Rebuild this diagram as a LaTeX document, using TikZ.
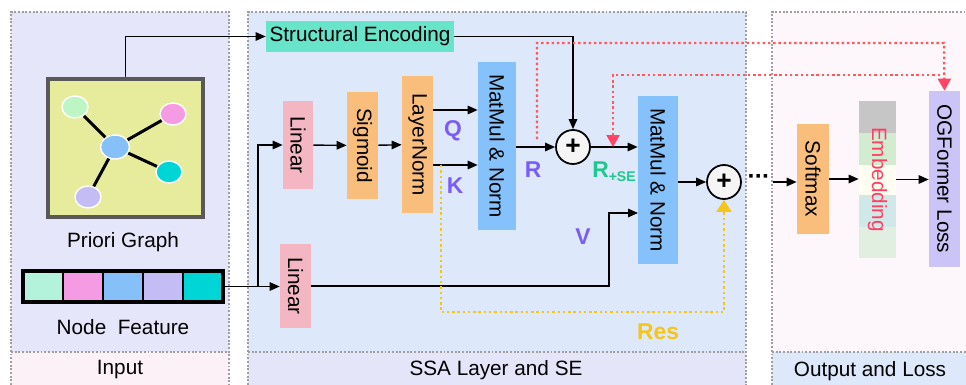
\documentclass[tikz,border=0pt]{standalone}
\usepackage{fontspec}
\setmainfont{Liberation Sans}
\usepackage{graphicx}
\usetikzlibrary{arrows.meta,shapes.geometric}
\newcommand{\vtext}[1]{\rotatebox{-90}{#1}}
\definecolor{inbg}{HTML}{E6E6FA}
\definecolor{infoot}{HTML}{FDF1F8}
\definecolor{ssabg}{HTML}{DEE8FB}
\definecolor{ssafoot}{HTML}{E5E5FA}
\definecolor{outbg}{HTML}{FDF6FA}
\definecolor{graphbg}{HTML}{E6EC9B}
\definecolor{nodegreen}{HTML}{BDF5C5}
\definecolor{nodepink}{HTML}{F59BE3}
\definecolor{nodeblue}{HTML}{85C1F8}
\definecolor{nodecyan}{HTML}{00D5D5}
\definecolor{nodepurple}{HTML}{C4BDF5}
\definecolor{featmint}{HTML}{B3F3DC}
\definecolor{setteal}{HTML}{67E4CA}
\definecolor{linpink}{HTML}{F4B6C2}
\definecolor{orng}{HTML}{F9BE7C}
\definecolor{mmblue}{HTML}{85C2FB}
\definecolor{losslav}{HTML}{CAC5F6}
\definecolor{qkpurple}{HTML}{7B5CF6}
\definecolor{rsegreen}{HTML}{1DC98D}
\definecolor{resyel}{HTML}{F5C518}
\definecolor{redline}{HTML}{FF5A5A}
\definecolor{redtip}{HTML}{FF4466}
\definecolor{embred}{HTML}{FF3F62}

\begin{document}
\begin{tikzpicture}[x=0.02cm, y=-0.02cm,
  font=\fontsize{11.8}{13}\selectfont,
  panel/.style={draw=gray!75, densely dotted, line width=1.1pt},
  blk/.style={inner sep=0pt},
  arr/.style={-{Triangle[length=2mm,width=1.7mm]}, line width=0.8pt},
  plus/.style={circle, draw, line width=1pt, fill=gray!8, minimum size=0.68cm, inner sep=0pt, font=\fontsize{15}{15}\selectfont\bfseries},
  gnode/.style={ellipse, draw=white, line width=0.8pt, minimum width=0.52cm, minimum height=0.44cm, inner sep=0pt},
  redarr/.style={redline, line width=1.3pt, dash pattern=on 1.4pt off 1.6pt, -{Triangle[length=2.4mm,width=2.6mm,color=redtip]}},
  lbl/.style={font=\fontsize{13}{13}\selectfont\bfseries}]
  \useasboundingbox (0,0) rectangle (966,385);
  % Panneaux
  \fill[inbg] (11,12) rectangle (229,352);
  \fill[infoot] (11,352) rectangle (229,385);
  \fill[ssabg] (248,12) rectangle (746,352);
  \fill[ssafoot] (248,352) rectangle (746,385);
  \fill[outbg] (772,12) rectangle (966,352);
  \fill[ssabg] (772,352) rectangle (966,385);
  \draw[panel] (11,385) -- (11,12) -- (229,12) -- (229,385) (11,352) -- (229,352);
  \draw[panel] (248,385) -- (248,12) -- (746,12) -- (746,385) (248,352) -- (746,352);
  \draw[panel] (772,385) -- (772,12) -- (966,12) (772,352) -- (966,352);
  \node (tin) at (120,370) {Input};
  \node (tssa) at (496,370) {SSA Layer and SE};
  \node (tout) at (870,371) {Output and Loss};
  % Graphe a priori
  \node[draw=black!65, line width=1.8pt, fill=graphbg, minimum width=3.1cm, minimum height=2.76cm] (graph) at (125.5,148) {};
  \node[gnode, fill=nodeblue, minimum width=0.58cm, minimum height=0.48cm] (gc) at (115,147) {};
  \node[gnode, fill=nodegreen] (ga) at (75,107) {};
  \node[gnode, fill=nodepink] (gb) at (173,114) {};
  \node[gnode, fill=nodecyan] (gd) at (169,172) {};
  \node[gnode, fill=nodepurple] (ge) at (88,197) {};
  \foreach \g in {ga,gb,gd,ge}
    \draw[line width=1.7pt] (gc) -- (\g);
  \node (tgraph) at (123,242) {Priori Graph};
  % Caracteristiques des noeuds
  \foreach \c [count=\i from 0] in {featmint,nodepink,nodeblue,nodepurple,nodecyan}
    \draw[fill=\c, line width=1.1pt] (23+40*\i,271) rectangle ++(40,31);
  \node[draw, line width=1.8pt, minimum width=4cm, minimum height=0.62cm, inner sep=0pt] (feat) at (123,286.5) {};
  \node (tfeat) at (123,327) {Node\ \ Feature};
  % Blocs SSA
  \node[blk, fill=setteal, minimum width=3.76cm, minimum height=0.62cm] (se) at (360,36.5) {Structural Encoding};
  \node[blk, fill=linpink, minimum width=0.6cm, minimum height=1.76cm] (lin1) at (298,145) {\vtext{Linear}};
  \node[blk, fill=linpink, minimum width=0.62cm, minimum height=1.68cm] (lin2) at (295.5,286) {\vtext{Linear}};
  \node[blk, fill=orng, minimum width=0.62cm, minimum height=2.14cm] (sig) at (362.5,145.5) {\vtext{Sigmoid}};
  \node[blk, fill=orng, minimum width=0.62cm, minimum height=2.74cm] (ln) at (417.5,144.5) {\vtext{LayerNorm}};
  \node[blk, fill=mmblue, minimum width=0.76cm, minimum height=3.36cm] (mm1) at (497,146) {\vtext{MatMul \& Norm}};
  \node[plus] (p1) at (573,147) {+};
  \node[blk, fill=mmblue, minimum width=0.8cm, minimum height=3.36cm] (mm2) at (658,180) {\vtext{MatMul \& Norm}};
  \node[plus] (p2) at (724,182) {+};
  % Sortie
  \node[blk, fill=orng, minimum width=0.64cm, minimum height=2.2cm] (soft) at (813,179) {\vtext{Softmax}};
  \fill[gray!45] (859,101) rectangle (896,133);
  \fill[green!40!gray!25] (859,133) rectangle (896,165);
  \fill[yellow!6] (859,165) rectangle (896,195);
  \fill[teal!18] (859,195) rectangle (896,227);
  \fill[green!30!gray!18] (859,227) rectangle (896,258);
  \node[blk, text=embred, minimum width=0.74cm, minimum height=3.14cm] (emb) at (877.5,179.5) {\vtext{Embedding}};
  \node[blk, fill=losslav, minimum width=0.62cm, minimum height=3.52cm] (loss) at (944.5,179) {\vtext{OGFormer Loss}};
  \node[inner sep=1pt] (dots) at (759,179) {\textbf{\fontsize{14}{14}\selectfont ·\kern-0.5pt·\kern-0.5pt·}};
  % Connexions
  \coordinate (br) at (258,286.5);
  \coordinate (q) at (433,110);
  \coordinate (k) at (433,165);
  \coordinate (vturn) at (609,213);
  \coordinate (vin) at (638,213);
  \draw[arr] (graph.north) |- (se.west);
  \draw[arr] (se.east) -| (p1.north);
  \draw[arr] (feat.east) -- (feat.east -| lin2.west);
  \draw[arr] (br) |- (lin1.west);
  \draw[arr] (lin1) -- (sig);
  \draw[arr] (sig) -- (ln);
  \draw[arr] (q) -- (q -| mm1.west);
  \draw[arr] (k) -- (k -| mm1.west);
  \draw[arr] (p1 -| mm1.east) -- (p1.west);
  \draw[arr] (p1.east) -- (p1 -| mm2.west);
  \draw[arr] (lin2.east) -| (vturn) -- (vin);
  \draw[arr] (p2 -| mm2.east) -- (p2.west);
  \draw[arr] (p2 -| 773,0) -- (p2 -| soft.west);
  \draw[arr] (soft.east) -- (soft -| emb.west);
  \draw[arr] (emb.east) -- (emb -| loss.west);
  % Residuel
  \coordinate (res0) at (441,165);
  \coordinate (resb) at (724,312);
  \draw[resyel, line width=1.3pt, dash pattern=on 1.4pt off 1.6pt, -{Triangle[length=2.4mm,width=3mm]}] (res0) |- (resb) -- (p2.south);
  % Fleches rouges
  \coordinate (r0) at (537,139);
  \coordinate (rtop) at (944,43);
  \coordinate (r2) at (940,75);
  \coordinate (rse) at (613,147);
  \draw[redarr] (r0) |- (rtop) -- (loss.north);
  \draw[redarr] (r2) -| (rse);
  % Etiquettes
  \node[lbl, text=qkpurple] (tq) at (453,131) {Q};
  \node[lbl, text=qkpurple] (tk) at (455,186) {K};
  \node[lbl, text=qkpurple] (tr) at (533,170) {R};
  \node[lbl, text=qkpurple] (tv) at (583,237) {V};
  \node[lbl, text=rsegreen] (trse) at (614,172) {R\raisebox{-0.3ex}{\fontsize{8}{8}\selectfont+SE}};
  \node[lbl, text=resyel] (tres) at (658,332) {Res};
\end{tikzpicture}
\end{document}
